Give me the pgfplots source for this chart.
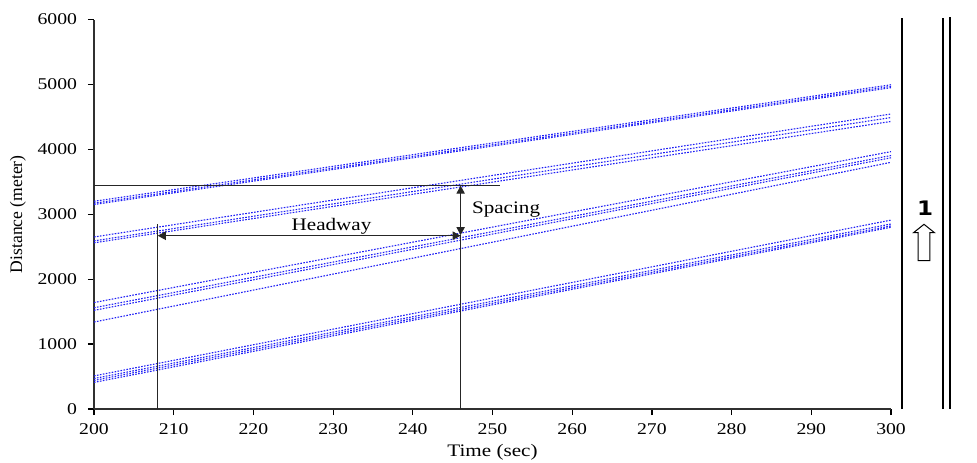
\documentclass[border=0pt]{standalone}
\usepackage{fontspec}
\setmainfont{Liberation Serif}[FakeStretch=1.2]
\newfontfamily\ylabfont{Liberation Serif}
\newfontfamily\lanefont{DejaVu Sans}[FakeStretch=1.15]
\usepackage{pgfplots}
\pgfplotsset{compat=1.18}
\usetikzlibrary{arrows.meta}

\definecolor{traj}{HTML}{1E1EF5}
\definecolor{axline}{HTML}{303030}

\tikzset{
  veh/.style={traj, line width=0.55pt, dash pattern=on 0.8pt off 0.7pt},
  ann/.style={black!85, line width=0.55pt},
  tri/.tip={Triangle[length=4pt,width=4.2pt]},
}

\begin{document}
\begin{tikzpicture}[x=1pt,y=1pt]
\useasboundingbox (-47,-26.5) rectangle (441.5,204.5);
\begin{axis}[
    at={(0,0)}, anchor=south west,
    scale only axis, width=398.5pt, height=194.75pt,
    xmin=200, xmax=300, ymin=0, ymax=6000,
    xtick={200,210,...,300}, ytick={0,1000,...,6000},
    axis x line*=bottom, axis y line*=left,
    axis line style={axline, line width=0.75pt},
    tick align=outside, major tick length=3pt,
    tick style={black, line width=0.6pt},
    /pgf/number format/assume math mode=true,
    /pgf/number format/1000 sep={},
    tick label style={font=\fontsize{8.2}{9}\selectfont},
    xticklabel style={yshift=-1pt},
    yticklabel style={xshift=-2pt},
    xlabel={Time (sec)},
    xlabel style={font=\fontsize{8.8}{10}\selectfont, at={(axis description cs:0.5,-0.11)}, anchor=center},
    ylabel={\ylabfont Distance (meter)},
    ylabel style={font=\fontsize{8.8}{10}\selectfont, at={(axis description cs:-0.0954,0.5)}, anchor=center, rotate=0},
    clip=false,
]
% platoon 1 (front)
\addplot[veh] coordinates {(200,3200) (300,4995)};
\addplot[veh] coordinates {(200,3170) (300,4970)};
\addplot[veh] coordinates {(200,3150) (300,4950)};
% platoon 2
\addplot[veh] coordinates {(200,2650) (300,4545)};
\addplot[veh] coordinates {(200,2590) (300,4490)};
\addplot[veh] coordinates {(200,2560) (300,4430)};
% platoon 3
\addplot[veh] coordinates {(200,1640) (300,3965)};
\addplot[veh] coordinates {(200,1560) (300,3905)};
\addplot[veh] coordinates {(200,1520) (300,3870)};
\addplot[veh] coordinates {(200,1340) (300,3800)};
% platoon 4
\addplot[veh] coordinates {(200,510) (300,2910)};
\addplot[veh] coordinates {(200,470) (300,2850)};
\addplot[veh] coordinates {(200,440) (300,2820)};
\addplot[veh] coordinates {(200,410) (300,2800)};

% headway / spacing annotation
\draw[ann] (axis cs:200,3450) -- (axis cs:251,3450);
\draw[ann] (axis cs:208,0) -- (axis cs:208,2850);
\draw[ann] (axis cs:246,0) -- (axis cs:246,2680);
\draw[ann, tri-tri] (axis cs:208,2670) -- (axis cs:246,2670);
\draw[ann, tri-tri] (axis cs:246,2680) -- (axis cs:246,3440);
\node[font=\fontsize{8.8}{10}\selectfont] at (axis cs:229.8,2820) {Headway};
\node[font=\fontsize{8.8}{10}\selectfont] at (axis cs:251.7,3073) {Spacing};
\end{axis}

% lane markings on the right
\draw[black, line width=1pt] (403.85,0) -- (403.85,195.5);
\draw[black, line width=1pt] (424.5,0) -- (424.5,195.5);
\draw[black, line width=1pt] (427.85,0) -- (427.85,196.25);
\node[font=\lanefont\fontsize{10}{12}\selectfont\bfseries] at (415.5,100.5) {1};
\draw[black, line width=0.5pt]
  (412.1,74.15) -- (417.9,74.15) -- (417.9,88.15) -- (420.25,88.15)
  -- (415,92.35) -- (409.75,88.15) -- (412.1,88.15) -- cycle;
\end{tikzpicture}
\end{document}
